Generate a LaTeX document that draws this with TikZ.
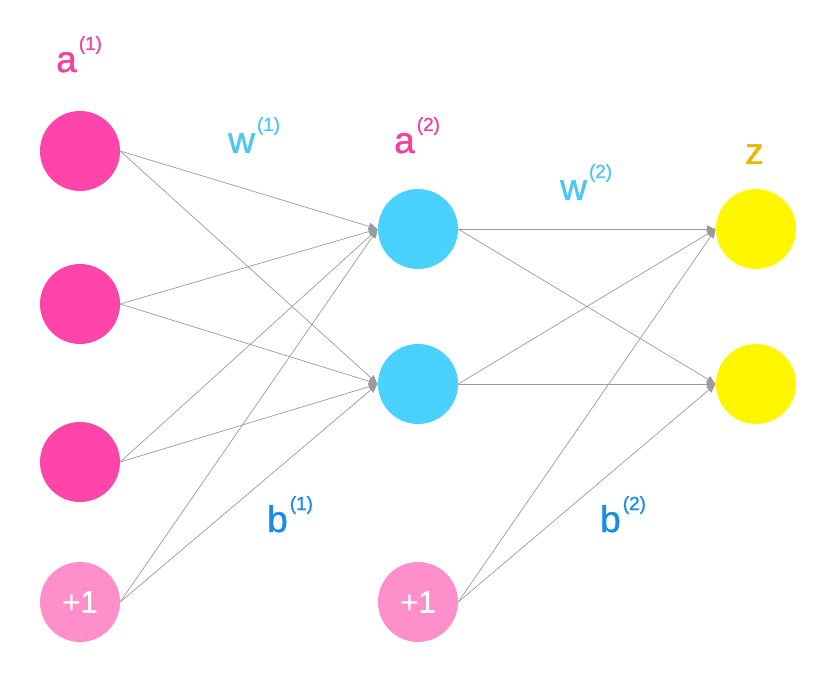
\documentclass[tikz,border=0pt]{standalone}
\usepackage{fontspec}
\setmainfont{Liberation Sans}
\newfontfamily\lblfont[FakeBold=1.2]{Liberation Sans}
\usetikzlibrary{arrows.meta}

\definecolor{inpink}{HTML}{FF45A9}
\definecolor{biaspink}{HTML}{FF8FCB}
\definecolor{hidcyan}{HTML}{4AD2FF}
\definecolor{outyellow}{HTML}{FFF600}
\definecolor{apink}{HTML}{F0449C}
\definecolor{wcyan}{HTML}{4CC8F0}
\definecolor{bblue}{HTML}{1A8CE6}
\definecolor{zgold}{HTML}{E6B800}
\definecolor{edgegray}{HTML}{9A9A9A}

\newcommand{\supsc}[1]{\hspace{2pt}\raisebox{22pt}{\fontsize{19}{19}\selectfont #1}}

\begin{document}
\begin{tikzpicture}
        [x=1pt, y=-1pt,
        unit/.style={circle, minimum size=80pt, inner sep=0pt},
        bias/.style={unit, fill=biaspink, text=white, font=\lblfont\fontsize{31}{31}\selectfont},
        edge/.style={draw=edgegray, line width=0.7pt, -{Latex[length=9pt,width=8pt]}},
        lbl/.style={anchor=base west, inner sep=0pt, font=\lblfont\fontsize{37}{37}\selectfont}]

    \useasboundingbox (0,0) rectangle (836,687);

    % input layer
    \node[unit, fill=inpink] (in1) at (80,151) {};
    \node[unit, fill=inpink] (in2) at (80,304) {};
    \node[unit, fill=inpink] (in3) at (80,462) {};
    \node[bias] (inb) at (80,602) {+1};

    % hidden layer
    \node[unit, fill=hidcyan] (hid1) at (418,229) {};
    \node[unit, fill=hidcyan] (hid2) at (418,384) {};
    \node[bias] (hidb) at (418,602) {+1};

    % output layer
    \node[unit, fill=outyellow] (out1) at (756,229) {};
    \node[unit, fill=outyellow] (out2) at (756,384) {};

    \foreach \s in {in1, in2, in3, inb}
      \foreach \t in {hid1, hid2}
        \draw[edge] (\s.east) -- (\t.west);

    \foreach \s in {hid1, hid2, hidb}
      \foreach \t in {out1, out2}
        \draw[edge] (\s.east) -- (\t.west);

    % labels
    \node[lbl, text=apink] (alab1) at (56,72) {a\supsc{(1)}};
    \node[lbl, text=apink] (alab2) at (394,153) {a\supsc{(2)}};
    \node[lbl, text=wcyan] (wlab1) at (228,153) {w\supsc{(1)}};
    \node[lbl, text=wcyan] (wlab2) at (560,200) {w\supsc{(2)}};
    \node[lbl, text=bblue] (blab1) at (267,532) {b\supsc{(1)}};
    \node[lbl, text=bblue] (blab2) at (600,532) {b\supsc{(2)}};
    \node[lbl, text=zgold] (zlab) at (745,164) {z};
\end{tikzpicture}
\end{document}
